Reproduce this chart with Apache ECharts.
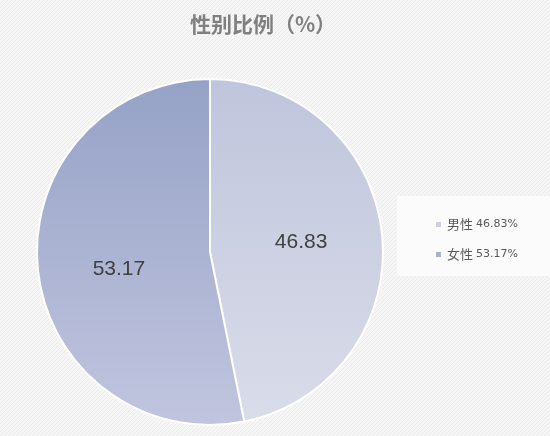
<!DOCTYPE html>
<html>
<head>
<meta charset="utf-8">
<script src="https://cdn.jsdelivr.net/npm/echarts@6/dist/echarts.min.js"></script>
<style>
  html, body { margin: 0; padding: 0; }
  #chart { width: 550px; height: 436px; }
</style>
</head>
<body>
<div id="chart"></div>
<script>
// 数据
var categories = ['男性', '女性'];
var values = [46.83, 53.17];

// 斜纹背景
function stripePattern() {
    var c = document.createElement('canvas');
    c.width = 4; c.height = 4;
    var ctx = c.getContext('2d');
    ctx.fillStyle = '#f6f6f6';
    ctx.fillRect(0, 0, 4, 4);
    ctx.strokeStyle = '#ebebeb';
    ctx.lineWidth = 1;
    ctx.beginPath();
    ctx.moveTo(0, 4); ctx.lineTo(4, 0);
    ctx.moveTo(-1, 1); ctx.lineTo(1, -1);
    ctx.moveTo(3, 5); ctx.lineTo(5, 3);
    ctx.stroke();
    return c;
}

var colors = [
    { top: '#bfc5dc', bottom: '#d9dce9' },
    { top: '#95a2c6', bottom: '#c1c5df' }
];

var myChart = echarts.init(document.getElementById('chart'));
var pieData = categories.map(function (name, i) {
    return {
        name: name,
        value: values[i],
        itemStyle: {
            color: new echarts.graphic.LinearGradient(0, 0, 0, 1, [
                { offset: 0, color: colors[i].top },
                { offset: 1, color: colors[i].bottom }
            ])
        },
        label: { offset: i === 1 ? [-2, 8] : [2, -1] }
    };
});

myChart.setOption({
    backgroundColor: { image: stripePattern(), repeat: 'repeat' },
    animation: false,
    title: {
        text: '性别比例（%）',
        left: 258,
        textAlign: 'center',
        top: 9,
        textStyle: {
            fontFamily: 'Noto Sans CJK SC',
            fontSize: 21,
            fontWeight: 'bold',
            color: '#808080'
        }
    },
    graphic: [{
        type: 'rect',
        shape: { x: 397, y: 196, width: 153, height: 80 },
        style: { fill: '#fbfbfb' },
        z: 0
    }],
    legend: {
        orient: 'vertical',
        left: 429,
        top: 213,
        itemWidth: 7,
        itemHeight: 7,
        itemGap: 17,
        icon: 'rect',
        data: categories.map(function (name, i) {
            return { name: name, itemStyle: { color: i === 0 ? '#cdd1e2' : '#aab2d0' } };
        }),
        formatter: function (name) {
            var i = categories.indexOf(name);
            return name + ' {v|' + values[i].toFixed(2) + '%}';
        },
        textStyle: {
            fontFamily: 'Noto Sans CJK SC',
            fontSize: 13,
            color: '#595959',
            rich: {
                v: { fontFamily: 'DejaVu Sans', fontSize: 11, color: '#595959' }
            }
        }
    },
    series: [{
        type: 'pie',
        center: [210, 252],
        radius: [0, 173],
        startAngle: 90,
        clockwise: true,
        silent: true,
        itemStyle: { borderColor: '#ffffff', borderWidth: 2 },
        label: {
            position: 'inside',
            formatter: function (p) { return p.value.toFixed(2); },
            fontFamily: 'Liberation Sans',
            fontSize: 21,
            color: '#404040'
        },
        labelLine: { show: false },
        data: pieData
    }]
});
</script>
</body>
</html>
